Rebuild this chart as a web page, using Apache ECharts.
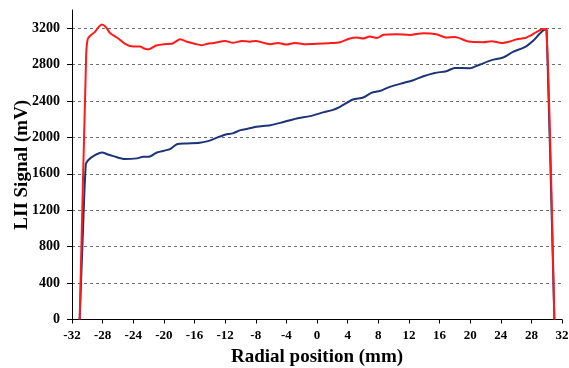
<!DOCTYPE html>
<html>
<head>
<meta charset="utf-8">
<script src="https://cdn.jsdelivr.net/npm/echarts@6/dist/echarts.min.js"></script>
<style>html,body{margin:0;padding:0;background:#fff}#c{width:569px;height:368px}</style>
</head>
<body>
<div id="c"></div>
<script>
const xTicks = [-32,-28,-24,-20,-16,-12,-8,-4,0,4,8,12,16,20,24,28,32];
const yTicks = [0,400,800,1200,1600,2000,2400,2800,3200];

const redX = [-31.0,-30.15,-29.95,-29.6,-29.0,-28.5,-28.1,-27.6,-27.0,-26.0,-25.0,-24.0,-23.1,-22.5,-22.0,-21.0,-20.0,-19.0,-18.5,-17.9,-17.0,-16.0,-15.1,-14.3,-13.5,-12.0,-11.0,-9.8,-8.8,-8.0,-7.0,-6.1,-5.1,-4.0,-2.9,-1.6,0,1.5,3.0,4.2,5.2,6.0,6.9,7.8,8.7,10.4,12.1,13.9,15.6,16.9,18.0,19.8,21.7,22.8,24.1,25.2,26.1,27.2,28.0,28.7,29.6,29.95,31.0];
const redY = [0,2900,3080,3120,3160,3215,3240,3215,3145,3090,3025,2998,2998,2975,2968,3010,3025,3028,3050,3080,3052,3030,3013,3030,3038,3060,3040,3060,3052,3060,3040,3024,3038,3020,3038,3024,3028,3035,3046,3085,3097,3086,3110,3093,3128,3134,3126,3145,3134,3097,3104,3053,3046,3057,3038,3055,3079,3093,3125,3160,3190,3186,0];

const blueX = [-31.0,-30.6,-30.2,-29.9,-29.0,-28.1,-27.3,-26.6,-25.1,-23.5,-22.7,-22.0,-20.9,-19.2,-18.3,-17.0,-15.3,-14.0,-13.0,-12.0,-11.0,-10.0,-8.8,-7.9,-6.1,-4.8,-2.65,-0.9,0.8,2.0,3.0,4.7,6.05,7.1,8.2,9.5,11.3,12.6,13.9,15.4,16.9,18.0,20.0,21.3,22.8,24.3,25.6,27.2,28.3,29.1,29.8,30.0,31.0];
const blueY = [0,900,1700,1750,1805,1835,1813,1795,1762,1770,1787,1787,1835,1872,1926,1934,1941,1965,2000,2030,2045,2080,2100,2117,2135,2160,2209,2234,2275,2300,2336,2417,2439,2490,2510,2556,2599,2629,2673,2709,2728,2764,2761,2801,2849,2878,2940,2995,3068,3141,3186,3180,0];

const FONT = "'Liberation Serif','Times New Roman',serif";
const chart = echarts.init(document.getElementById('c'), null, {renderer:'canvas'});
const pair = (xs, ys) => xs.map((x, i) => [x, ys[i]]);

chart.setOption({
  animation: false,
  backgroundColor: '#fff',
  grid: { left: 72, right: 7, top: 10, bottom: 48.5, containLabel: false, outerBoundsMode: 'none' },
  xAxis: {
    type: 'value', min: -32, max: 32, interval: 4,
    name: 'Radial position (mm)', nameLocation: 'middle', nameGap: 28, nameMoveOverlap: false,
    nameTextStyle: { fontFamily: FONT, fontWeight: 'bold', fontSize: 19, color: '#000' },
    axisLine: { show: true, onZero: false, lineStyle: { color: '#000', width: 1 } },
    axisTick: { show: true, length: 4, lineStyle: { color: '#000' } },
    axisLabel: { fontFamily: FONT, fontWeight: 'bold', fontSize: 13, color: '#000', margin: 10 },
    splitLine: { show: false }
  },
  yAxis: {
    type: 'value', min: 0, max: 3400, interval: 400,
    name: 'LII Signal (mV)', nameLocation: 'middle', nameGap: 40, nameRotate: 90, nameMoveOverlap: false,
    nameTextStyle: { fontFamily: FONT, fontWeight: 'bold', fontSize: 19, color: '#000' },
    axisLine: { show: true, onZero: false, lineStyle: { color: '#000', width: 1 } },
    axisTick: { show: true, length: 5, lineStyle: { color: '#000' }, customValues: yTicks },
    axisLabel: { fontFamily: FONT, fontWeight: 'bold', fontSize: 14, color: '#000', margin: 12, customValues: yTicks,
      formatter: v => (v > 3200 ? '' : String(v)) },
    splitLine: { show: true, lineStyle: { color: ['#6e6e6e','#6e6e6e','#6e6e6e','#6e6e6e','#6e6e6e','#6e6e6e','#6e6e6e','#6e6e6e','#6e6e6e','rgba(0,0,0,0)'], type: [3, 3], width: 1 } }
  },
  series: [
    { type: 'line', data: pair(blueX, blueY), showSymbol: false, smooth: 0.25, clip: false,
      lineStyle: { color: '#1d3577', width: 2 } },
    { type: 'line', data: pair(redX, redY), showSymbol: false, smooth: 0.25, clip: false,
      lineStyle: { color: '#ff1a1a', width: 2 } }
  ]
});
</script>
</body>
</html>
